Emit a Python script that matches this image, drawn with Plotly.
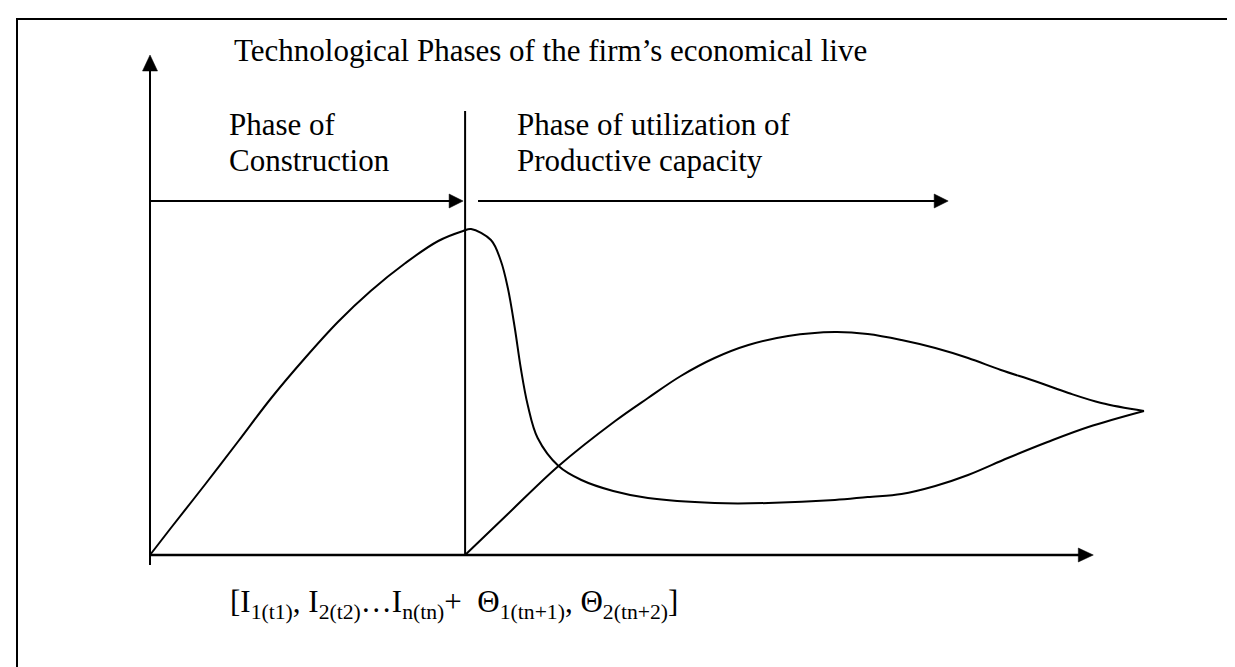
import math
import plotly.graph_objects as go

# ---------------- data (time units on x, value units on y) ----------------
# Curve 1: construction phase rise and subsequent decline
curve1_t = [0.00, 0.21, 0.55, 0.89, 1.22, 1.56, 1.89, 2.22, 2.57, 2.90, 3.15, 3.23,
            3.43, 3.53, 3.60, 3.67, 3.73, 3.80, 3.90, 4.11, 4.34, 4.66, 5.01, 5.68,
            6.22, 6.89, 7.22, 7.56, 7.90, 8.23, 8.63, 9.03, 9.44, 10.00]
curve1_v = [0.00, 0.54, 1.40, 2.28, 3.14, 3.94, 4.66, 5.28, 5.84, 6.28, 6.48, 6.52,
            6.30, 5.88, 5.34, 4.54, 3.74, 3.00, 2.34, 1.78, 1.50, 1.28, 1.14, 1.04,
            1.04, 1.10, 1.16, 1.22, 1.38, 1.60, 1.94, 2.26, 2.56, 2.88]
# Curve 2: utilization of productive capacity
curve2_t = [3.17, 3.60, 4.11, 4.68, 5.01, 5.34, 5.68, 6.02, 6.42, 6.89, 7.22, 7.56,
            7.90, 8.23, 8.56, 8.90, 9.24, 9.57, 10.00]
curve2_v = [0.00, 0.82, 1.78, 2.68, 3.14, 3.58, 3.94, 4.20, 4.38, 4.46, 4.42, 4.30,
            4.14, 3.94, 3.70, 3.48, 3.24, 3.04, 2.88]

# phase boundary and axis extents (data units)
T_N = 3.17            # end of construction phase
T_AXIS_END = 9.49
V_AXIS_END = 10.0
V_AXIS_START = -0.2
V_BOUNDARY_TOP = 8.88
V_PHASE_ARROW = 7.08
CONSTR_ARROW = (0.0, 3.15)
UTIL_ARROW = (3.30, 8.03)

# ---------------- texts ----------------
TITLE = "Technological Phases of the firm\u2019s economical live"
PHASE1 = ["Phase of", "Construction"]
PHASE2 = ["Phase of utilization of", "Productive capacity"]
FORMULA = ("[I<sub>1(t1)</sub>, I<sub>2(t2)</sub>\u2026I<sub>n(tn)</sub>+\u00a0 "
           "\u0398<sub>1(tn+1)</sub>, \u0398<sub>2(tn+2)</sub>]")

W, H = 1235, 667
FONT = "Liberation Serif, Times New Roman, serif"
FS = 31

# pixel scale of the data axes
x_px0, y_px0 = 142, 547
sx, sy = 99.4, 50.0

fig = go.Figure()

curve_line = dict(color="black", width=2, shape="spline", smoothing=1.0)
fig.add_trace(go.Scatter(x=curve1_t, y=curve1_v, mode="lines", line=curve_line,
                         hoverinfo="skip", showlegend=False))
fig.add_trace(go.Scatter(x=curve2_t, y=curve2_v, mode="lines", line=curve_line,
                         hoverinfo="skip", showlegend=False))
# phase boundary
fig.add_trace(go.Scatter(x=[T_N, T_N], y=[0, V_BOUNDARY_TOP], mode="lines",
                         line=dict(color="black", width=2), hoverinfo="skip", showlegend=False))


def arrow(x0, y0, x1, y1, width=2, head_len=15, head_half=7):
    """Shaft as a line, head as a filled triangle (sizes in pixels)."""
    dxp, dyp = (x1 - x0) * sx, (y1 - y0) * sy
    L = math.hypot(dxp, dyp)
    ux, uy = dxp / L, dyp / L
    bx, by = x1 - head_len * ux / sx, y1 - head_len * uy / sy
    fig.add_trace(go.Scatter(x=[x0, bx + ux / sx], y=[y0, by + uy / sy], mode="lines",
                             line=dict(color="black", width=width),
                             hoverinfo="skip", showlegend=False))
    px, py = -uy, ux
    fig.add_trace(go.Scatter(
        x=[x1, bx + head_half * px / sx, bx - head_half * px / sx, x1],
        y=[y1, by + head_half * py / sy, by - head_half * py / sy, y1],
        mode="lines", fill="toself", fillcolor="black",
        line=dict(color="black", width=0.5), hoverinfo="skip", showlegend=False))


arrow(0, V_AXIS_START, 0, V_AXIS_END, 2, 16, 7.5)
arrow(0, 0, T_AXIS_END, 0, 2.5, 15, 7)
arrow(CONSTR_ARROW[0], V_PHASE_ARROW, CONSTR_ARROW[1], V_PHASE_ARROW, 1.8, 14, 7)
arrow(UTIL_ARROW[0], V_PHASE_ARROW, UTIL_ARROW[1], V_PHASE_ARROW, 1.8, 14, 7)

annotations = []


def label(text, left_px, baseline_px, size=FS):
    annotations.append(dict(x=left_px / W, y=1 - (baseline_px - 0.891 * size - 1) / H,
                            xref="paper", yref="paper", xanchor="left", yanchor="top",
                            text=text, showarrow=False, align="left",
                            font=dict(family=FONT, size=size, color="black")))


label(TITLE, 224, 52)
label(PHASE1[0], 219, 126)
label(PHASE1[1], 219, 162)
label(PHASE2[0], 507, 126)
label(PHASE2[1], 507, 162)
label(FORMULA, 220, 603)

fig.update_layout(
    width=W, height=H,
    margin=dict(l=0, r=0, t=0, b=0),
    paper_bgcolor="white", plot_bgcolor="white",
    xaxis=dict(range=[-x_px0 / sx, (W - x_px0) / sx], visible=False, fixedrange=True),
    yaxis=dict(range=[(y_px0 - H) / sy, y_px0 / sy], visible=False, fixedrange=True),
    annotations=annotations,
    shapes=[dict(type="rect", xref="paper", yref="paper",
                 x0=9 / W, x1=1233 / W, y0=1 - 664 / H, y1=1 - 11 / H,
                 line=dict(color="black", width=2))],
    showlegend=False,
)

fig.write_html("out.html")
